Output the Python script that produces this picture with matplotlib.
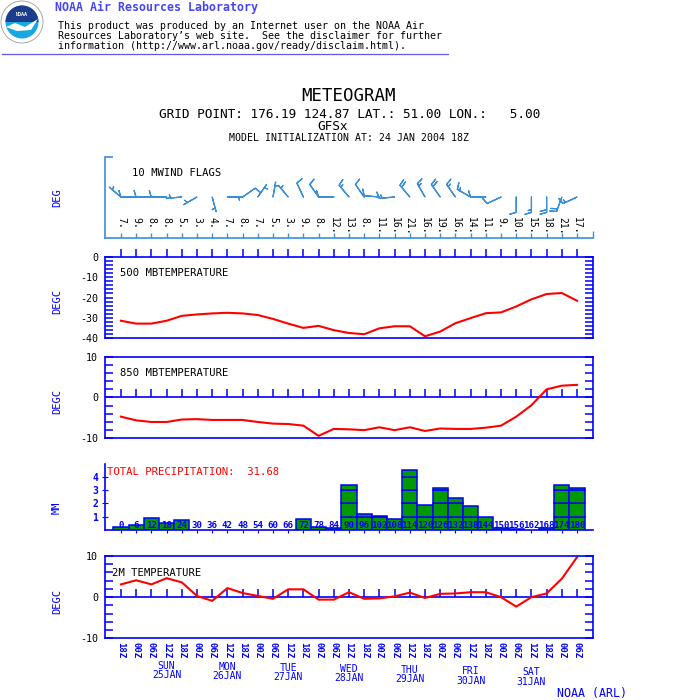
import numpy as np
import matplotlib

matplotlib.use("Agg")

import matplotlib.pyplot as plt  # noqa: E402
from matplotlib.patches import Circle, Wedge, Polygon  # noqa: E402

# ---- data ----
hour_labels = ["18Z", "00Z", "06Z", "12Z", "18Z", "00Z", "06Z", "12Z", "18Z", "00Z",
               "06Z", "12Z", "18Z", "00Z", "06Z", "12Z", "18Z", "00Z", "06Z", "12Z",
               "18Z", "00Z", "06Z", "12Z", "18Z", "00Z", "06Z", "12Z", "18Z", "00Z", "06Z"]
day_names = ["SUN", "MON", "TUE", "WED", "THU", "FRI", "SAT"]
day_dates = ["25JAN", "26JAN", "27JAN", "28JAN", "29JAN", "30JAN", "31JAN"]
day_pos = [3, 7, 11, 15, 19, 23, 27]  # 12Z of each day

fc_hours = [0, 6, 12, 18, 24, 30, 36, 42, 48, 54, 60, 66, 72, 78, 84, 90, 96, 102,
            108, 114, 120, 126, 132, 138, 144, 150, 156, 162, 168, 174, 180]

wind_speed = [7, 9, 8, 8, 5, 3, 4, 7, 8, 7, 5, 3, 9, 8, 12, 13, 8, 11, 16, 21, 16,
              19, 16, 14, 11, 9, 10, 15, 18, 21, 17]
wind_dir = [310, 270, 270, 270, 265, 240, 165, 90, 55, 35, 10, 320, 335, 325, 270,
            320, 325, 275, 265, 320, 330, 325, 325, 300, 270, 245, 180, 180, 180, 200, 245]

t500 = [-31.4, -32.8, -32.8, -31.4, -29.0, -28.3, -27.8, -27.5, -27.8, -28.6, -30.5,
        -32.8, -34.9, -33.9, -36.0, -37.4, -38.0, -35.1, -34.1, -34.1, -39.0, -36.7,
        -32.6, -30.1, -27.7, -27.3, -24.4, -20.9, -18.3, -17.8, -21.6]
t850 = [-4.7, -5.6, -6.0, -6.0, -5.4, -5.3, -5.5, -5.5, -5.5, -6.0, -6.4, -6.5, -6.9,
        -9.4, -7.7, -7.8, -8.0, -7.3, -8.0, -7.3, -8.2, -7.6, -7.7, -7.7, -7.4, -6.9,
        -4.7, -1.9, 2.0, 2.9, 3.1]
precip = [0.2, 0.37, 0.9, 0.5, 0.72, 0, 0, 0, 0, 0, 0, 0, 0.82, 0.2, 0.18, 3.34, 1.2,
          1.04, 0.82, 4.51, 1.89, 3.18, 2.42, 1.81, 0.95, 0.12, 0.05, 0, 0.15, 3.34, 3.18]
precip_total = 31.68
t2m = [3.1, 4.1, 3.1, 4.6, 3.6, 0.3, -0.9, 2.2, 1.0, 0.3, -0.4, 1.9, 1.9, -0.6, -0.6,
       1.2, -0.4, -0.3, 0.2, 1.1, -0.2, 0.8, 0.9, 1.2, 1.2, 0.0, -2.3, 0.0, 0.9, 4.5, 9.7]

# ---- style ----
BLUE = "#0000ff"
LBLUE = "#3a8fd9"
RED = "#ff0000"
GREEN = "#009a00"
plt.rcParams["font.family"] = ["DejaVu Sans Mono", "DejaVu Sans"]
plt.rcParams["axes.unicode_minus"] = False

W = H = 700
X0, X1 = 105, 593
XLIM = (-1.05, 31.05)
idx = np.arange(len(hour_labels))

fig = plt.figure(figsize=(7, 7), dpi=100)

# header layer, pixel coordinates
hd = fig.add_axes([0, 0, 1, 1])
hd.set_xlim(0, W)
hd.set_ylim(H, 0)
hd.axis("off")

hd.add_patch(Circle((22, 22), 21, fc="white", ec="#9a9a9a", lw=0.6))
hd.add_patch(Circle((22, 22), 16.5, fc="#17a8e3", ec="none"))
hd.add_patch(Wedge((22, 22), 16.5, 180, 360, fc="#1c3c8c", ec="none"))
hd.add_patch(Polygon([(6, 27), (15, 23), (25, 27), (38, 19), (31, 30), (17, 31)],
                     closed=True, fc="white", ec="none"))
hd.text(22, 15, "NOAA", color="white", fontsize=3.6, ha="center", va="center",
        fontweight="bold")

hd.text(55, 7.5, "NOAA Air Resources Laboratory", color="#4646f0", fontsize=8.4,
        fontweight="bold", va="center")
disclaimer = ["This product was produced by an Internet user on the NOAA Air",
              "Resources Laboratory’s web site.  See the disclaimer for further",
              "information (http://www.arl.noaa.gov/ready/disclaim.html)."]
for k, line in enumerate(disclaimer):
    hd.text(58, 25.7 + 10 * k, line, fontsize=7.2, va="center")
hd.plot([2, 448], [54, 54], color="#5a5af0", lw=0.9)

hd.text(349, 95.8, "METEOGRAM", fontsize=12.5, ha="center", va="center")
hd.text(350, 115, "GRID POINT: 176.19 124.87 LAT.: 51.00 LON.:   5.00", fontsize=9.2,
        ha="center", va="center")
hd.text(333, 126.7, "GFSx", fontsize=9.2, ha="center", va="center")
hd.text(349, 138.3, "MODEL INITIALIZATION AT: 24 JAN 2004 18Z", fontsize=7.1,
        ha="center", va="center")
hd.text(557, 693, "NOAA (ARL)", color=BLUE, fontsize=8.4, va="center")


def panel(top, bottom):
    ax = fig.add_axes([X0 / W, 1 - bottom / H, (X1 - X0) / W, (bottom - top) / H])
    ax.set_xlim(XLIM)
    ax.patch.set_alpha(0)
    return ax


# ---- 10 m wind flags ----
aw = panel(157, 238)
aw.set_ylim(0, 1)
for s in ["top", "right"]:
    aw.spines[s].set_visible(False)
for s in ["left", "bottom"]:
    aw.spines[s].set_color(LBLUE)
    aw.spines[s].set_linewidth(1.2)
aw.set_xticks(idx, labels=[])
aw.tick_params(axis="x", direction="in", length=3.6, color=LBLUE, width=1)
aw.set_yticks([1], labels=[])
aw.tick_params(axis="y", direction="in", length=5.8, color=LBLUE, width=1.2)
aw.plot([XLIM[1]], [0], marker=2, ms=4.8, mew=1, color=LBLUE, clip_on=False)

rad = np.deg2rad(wind_dir)
spd = np.array(wind_speed, dtype=float)
u = -spd * np.sin(rad)
v = -spd * np.cos(rad)
aw.barbs(idx, np.full(len(idx), 0.506), u, v, length=4.7, color=LBLUE, lw=0.9,
         sizes=dict(height=0.42, spacing=0.18, width=0.25, emptybarb=0), clip_on=False)
for i, s in zip(idx, wind_speed):
    aw.text(i, 0.263, f"{s}.", rotation=-90, ha="center", va="top", fontsize=7,
            transform=aw.get_xaxis_transform())
aw.text(0.0547, 0.8, "10 MWIND FLAGS", fontsize=7.6, va="center", transform=aw.transAxes)
aw.set_ylabel("DEG", color=BLUE, fontsize=7.5)
aw.yaxis.set_label_coords(-0.088, 0.5)


def temp_panel(top, bottom, ylo, yhi, values, title, title_x, label_y):
    ax = panel(top, bottom)
    ax.set_ylim(ylo, yhi)
    for s in ax.spines.values():
        s.set_color(BLUE)
        s.set_linewidth(1.2)
    ax.set_yticks(np.arange(ylo, yhi + 1, 10))
    ax.set_yticks(np.arange(ylo, yhi + 1, 2), minor=True)
    ax.tick_params(axis="y", which="both", direction="in", length=5.8, width=1.1,
                   color=BLUE, left=True, right=True, labelsize=7.2, pad=5)
    ax.set_xticks([])
    if ylo < 0 < yhi:
        ax.axhline(0, color=BLUE, lw=1.2)
    ax.plot(idx, np.zeros(len(idx)), ls="none", marker=2, ms=5.8, mew=1.1,
            color=BLUE, clip_on=False)
    ax.plot(idx, values, color=RED, lw=1.5)
    ax.text(title_x, 0.797, title, fontsize=7.6, va="center", transform=ax.transAxes)
    ax.set_ylabel("DEGC", color=BLUE, fontsize=7.5)
    ax.yaxis.set_label_coords(-0.088, label_y)
    return ax


temp_panel(256.7, 338.3, -40, 0, t500, "500 MBTEMPERATURE", 0.03, 0.449)
temp_panel(356.7, 438.3, -10, 10, t850, "850 MBTEMPERATURE", 0.03, 0.449)

# ---- precipitation ----
ap = panel(464.3, 530)
ap.set_ylim(0, 4.93)
for s in ["top", "right"]:
    ap.spines[s].set_visible(False)
for s in ["left", "bottom"]:
    ap.spines[s].set_color(BLUE)
    ap.spines[s].set_linewidth(1.2)
pr = np.array(precip)
for lvl in range(int(np.ceil(pr.max()))):
    seg = np.clip(pr - lvl, 0, 1)
    m = seg > 0
    ap.bar(idx[m], seg[m], bottom=lvl, width=1, color=GREEN, edgecolor=BLUE, lw=1.1)
ap.set_yticks([1, 2, 3, 4])
ap.tick_params(axis="y", direction="inout", length=4, color=BLUE, labelcolor=BLUE,
               labelsize=7, pad=3)
for lab in ap.get_yticklabels():
    lab.set_fontweight("bold")
ap.set_xticks(idx, labels=[])
ap.tick_params(axis="x", direction="out", length=2.2, color=BLUE)
for i, h in zip(idx, fc_hours):
    ap.text(i, 0.061, str(h), ha="center", va="center", fontsize=6.6, color=BLUE,
            fontweight="bold", transform=ap.get_xaxis_transform())
ap.text(0.004, 0.878, f"TOTAL PRECIPITATION:  {precip_total:.2f}", color=RED,
        fontsize=7.7, va="center", transform=ap.transAxes)
ap.set_ylabel("MM", color=BLUE, fontsize=7.5)
ap.yaxis.set_label_coords(-0.088, 0.335)

# ---- 2 m temperature ----
a2 = temp_panel(556, 638.3, -10, 10, t2m, "2M TEMPERATURE", 0.015, 0.445)
a2.set_xticks(idx, labels=hour_labels, rotation=-90, fontsize=6.5, color=BLUE,
              fontweight="bold")
a2.tick_params(axis="x", length=0, pad=2.4)
hgt = 638.3 - 556
for k, (name, date, pos) in enumerate(zip(day_names, day_dates, day_pos)):
    shift = 1.1 * k / hgt
    a2.text(pos, -0.333 - shift, name, ha="center", va="center", fontsize=7,
            color=BLUE, transform=a2.get_xaxis_transform())
    a2.text(pos, -0.446 - shift, date, ha="center", va="center", fontsize=7,
            color=BLUE, transform=a2.get_xaxis_transform())

fig.savefig("out.png", dpi=100)
plt.close(fig)
